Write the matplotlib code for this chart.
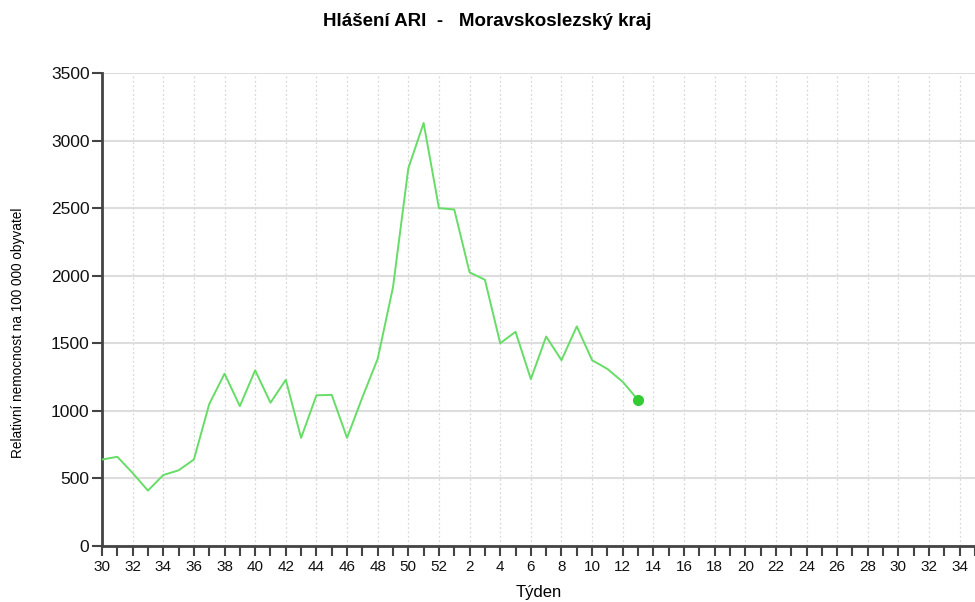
import numpy as np
import matplotlib; matplotlib.use("Agg")
import matplotlib.pyplot as plt

# týdny 30-52 a 1-35, hodnoty ARI na 100 000 obyvatel
weeks = list(range(30, 53)) + list(range(1, 36))
ari = [640, 660, 540, 410, 525, 560, 640, 1050, 1275, 1035, 1300, 1060, 1230,
       800, 1115, 1118, 800, 1100, 1385, 1915, 2795, 3130, 2500, 2490, 2025,
       1970, 1500, 1585, 1235, 1550, 1375, 1625, 1375, 1310, 1215, 1080]
yticks = [0, 500, 1000, 1500, 2000, 2500, 3000, 3500]

plt.rcParams["font.family"] = ["Liberation Sans", "DejaVu Sans"]
LINE = "#66dd66"
DOT = "#33cc33"
AX = "#444444"

fig = plt.figure(figsize=(9.75, 6.02), dpi=100)
ax = fig.add_axes([102/975, 1-546/602, 1-102/975, (546-73)/602])

x = np.arange(len(ari))
ax.plot(x, ari, color=LINE, lw=1.4, zorder=3)
ax.plot(x[-1], ari[-1], "o", color=DOT, ms=7, zorder=4)

ax.set_xlim(0, 56.5)
ax.set_ylim(0, 3500)
ax.set_yticks(yticks)
ax.set_xticks(np.arange(0, len(weeks), 2))
ax.set_xticklabels([str(w) for w in weeks[::2]])
ax.set_xticks(np.arange(len(weeks)), minor=True)

ax.grid(axis="y", color="#dddddd", lw=1.5, ls="-", zorder=0)
ax.grid(axis="x", which="major", color="#d8d8d8", lw=0.9, ls=(0, (1.5, 2)), zorder=0)
for s in ("top", "right"):
    ax.spines[s].set_visible(False)
for s in ("left", "bottom"):
    ax.spines[s].set_color(AX)
    ax.spines[s].set_linewidth(2)
ax.tick_params(axis="both", which="both", color=AX, width=1.5, length=7, labelcolor="#111111")
ax.tick_params(axis="y", labelsize=12.5, pad=2)
ax.tick_params(axis="x", labelsize=11, pad=3)

ax.set_ylabel("Relativní nemocnost na 100 000 obyvatel", fontsize=9.8)
ax.yaxis.set_label_coords(-77/873, 0.45)
ax.set_xlabel("Týden", fontsize=12, labelpad=8)
fig.text(0.5, 1-21/602, "Hlášení ARI  -   Moravskoslezský kraj", ha="center", va="center",
         fontsize=13.5, fontweight="bold",
         family=["Liberation Sans Narrow", "Liberation Sans", "DejaVu Sans"])

fig.savefig("out.png", dpi=100)
